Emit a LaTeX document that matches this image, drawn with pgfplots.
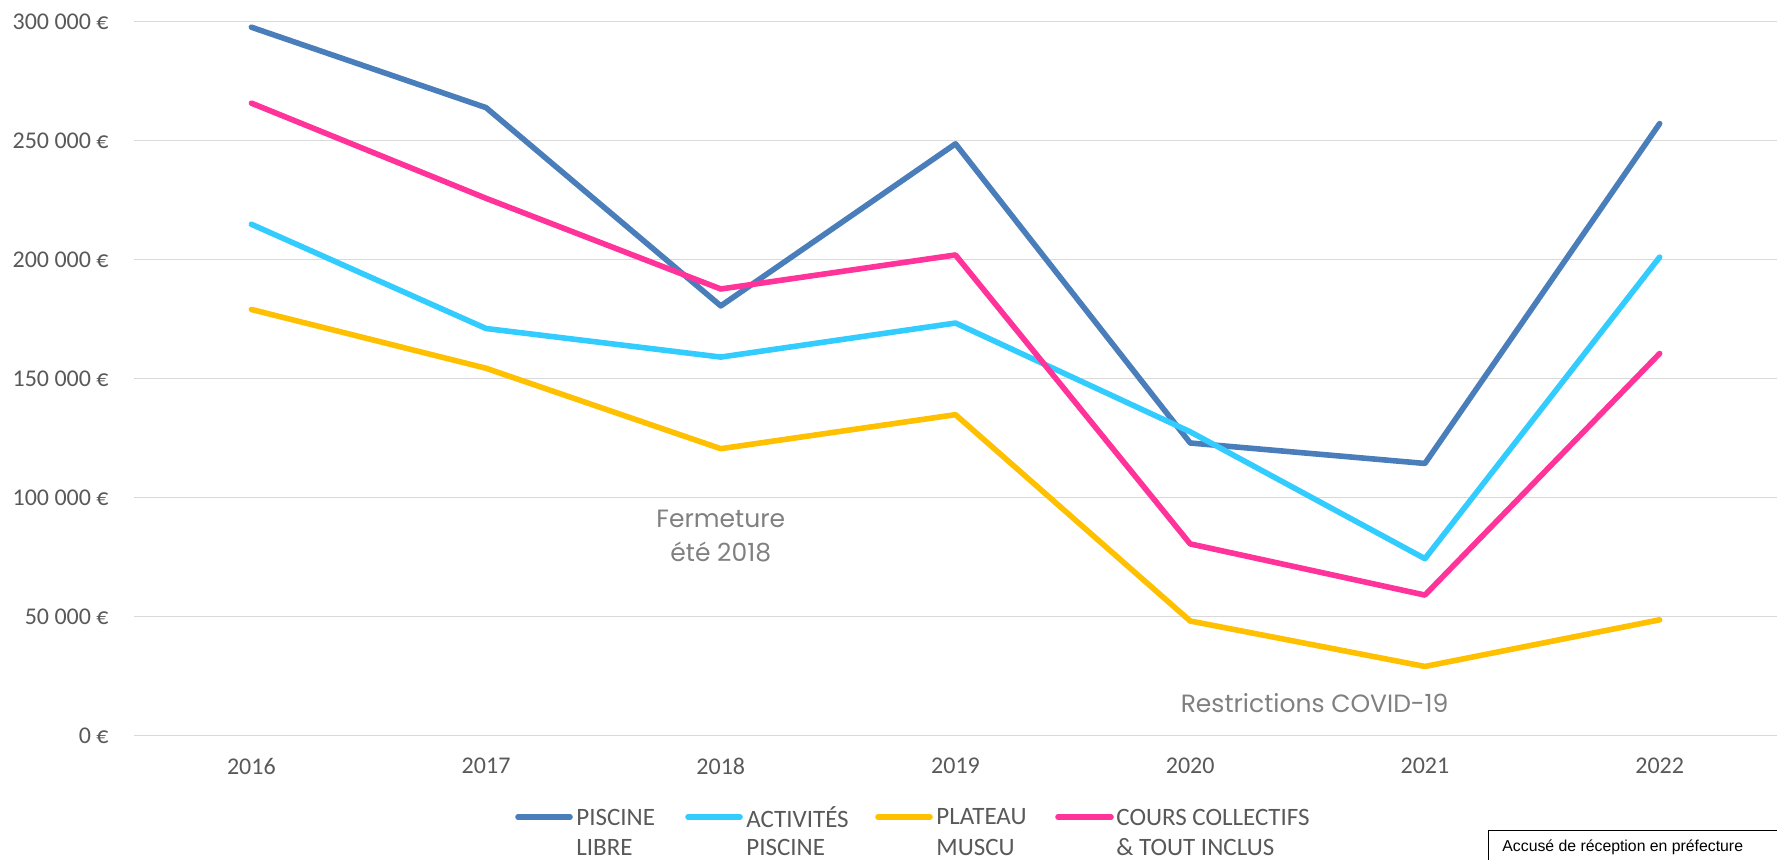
\documentclass[border=0pt]{standalone}
\usepackage{fontspec}
\setmainfont{Carlito}
\newfontfamily\annfont{Poppins}
\newfontfamily\arialfont{Liberation Sans}
\usepackage{pgfplots}
\pgfplotsset{compat=1.18}
\definecolor{cBlue}{HTML}{4A7EBB}
\definecolor{cLight}{HTML}{33CCFF}
\definecolor{cYellow}{HTML}{FFC000}
\definecolor{cPink}{HTML}{FF3399}
\definecolor{gridgray}{HTML}{D9D9D9}
\definecolor{tickgray}{HTML}{595959}
\definecolor{anngray}{HTML}{808080}
\begin{document}
\begin{tikzpicture}[x=1pt,y=1pt]
\useasboundingbox (0,0) rectangle (888.5,430);
\begin{axis}[
  at={(67pt,62.25pt)}, anchor=south west,
  scale only axis, width=821.5pt, height=357pt,
  xmin=-0.5, xmax=6.5, ymin=0, ymax=300000,
  xtick={0,1,2,3,4,5,6},
  xticklabels={2016,2017,2018,2019,2020,2021,2022},
  ytick={0,50000,100000,150000,200000,250000,300000},
  yticklabels={0~€,50~000~€,100~000~€,150~000~€,200~000~€,250~000~€,300~000~€},
  scaled y ticks=false,
  ymajorgrids,
  grid style={color=gridgray, line width=0.75pt},
  axis line style={draw=none},
  major tick length=0pt,
  tick label style={font=\fontsize{12}{14}\selectfont, text=tickgray},
  yticklabel style={anchor=east, inner sep=0pt, xshift=-12.5pt},
  xticklabel style={anchor=center, inner sep=0pt, yshift=-15.25pt},
  clip=false,
  every axis plot/.append style={line width=2.8pt, line join=round, line cap=round},
]
\addplot[cBlue] coordinates {(0,297600) (1,263800) (2,180500) (3,248600) (4,122900) (5,114300) (6,257100)};
\addplot[cLight] coordinates {(0,214800) (1,171000) (2,159000) (3,173300) (4,127600) (5,74300) (6,201000)};
\addplot[cYellow] coordinates {(0,179000) (1,154300) (2,120500) (3,134800) (4,48100) (5,29000) (6,48600)};
\addplot[cPink] coordinates {(0,265700) (1,225700) (2,187600) (3,201900) (4,80500) (5,59000) (6,160500)};
\node[font=\annfont\fontsize{12.5}{17}\selectfont, text=anngray, align=center] at (axis cs:2.0,83800) {Fermeture\\été 2018};
\node[font=\annfont\fontsize{12.5}{17}\selectfont, text=anngray] at (axis cs:4.53,13650) {Restrictions COVID-19};
\end{axis}
% legend
\begin{scope}[line width=2.8pt, line cap=round]
\draw[cBlue] (259,21.5) -- (285,21.5);
\draw[cLight] (344,21.5) -- (370,21.5);
\draw[cYellow] (439,21.5) -- (465,21.5);
\draw[cPink] (529,21.5) -- (555.5,21.5);
\end{scope}
\begin{scope}[every node/.style={anchor=west, inner sep=0pt, font=\fontsize{12.5}{15}\selectfont, text=tickgray}]
\node at (288,21.5) {PISCINE};
\node at (288,6.5) {LIBRE};
\node at (373,21.5) {ACTIVITÉS};
\node at (373,6.5) {PISCINE};
\node at (468,21.5) {PLATEAU};
\node at (468,6.5) {MUSCU};
\node at (558,21.5) {COURS COLLECTIFS};
\node at (558,6.5) {\& TOUT INCLUS};
\end{scope}
% reception box
\draw[black, line width=0.5pt] (744,-5) rectangle (900,14.5);
\node[anchor=west, inner sep=0pt, font=\arialfont\fontsize{7.9}{9}\selectfont] at (751,6.5) {Accusé de réception en préfecture};
\end{tikzpicture}
\end{document}
